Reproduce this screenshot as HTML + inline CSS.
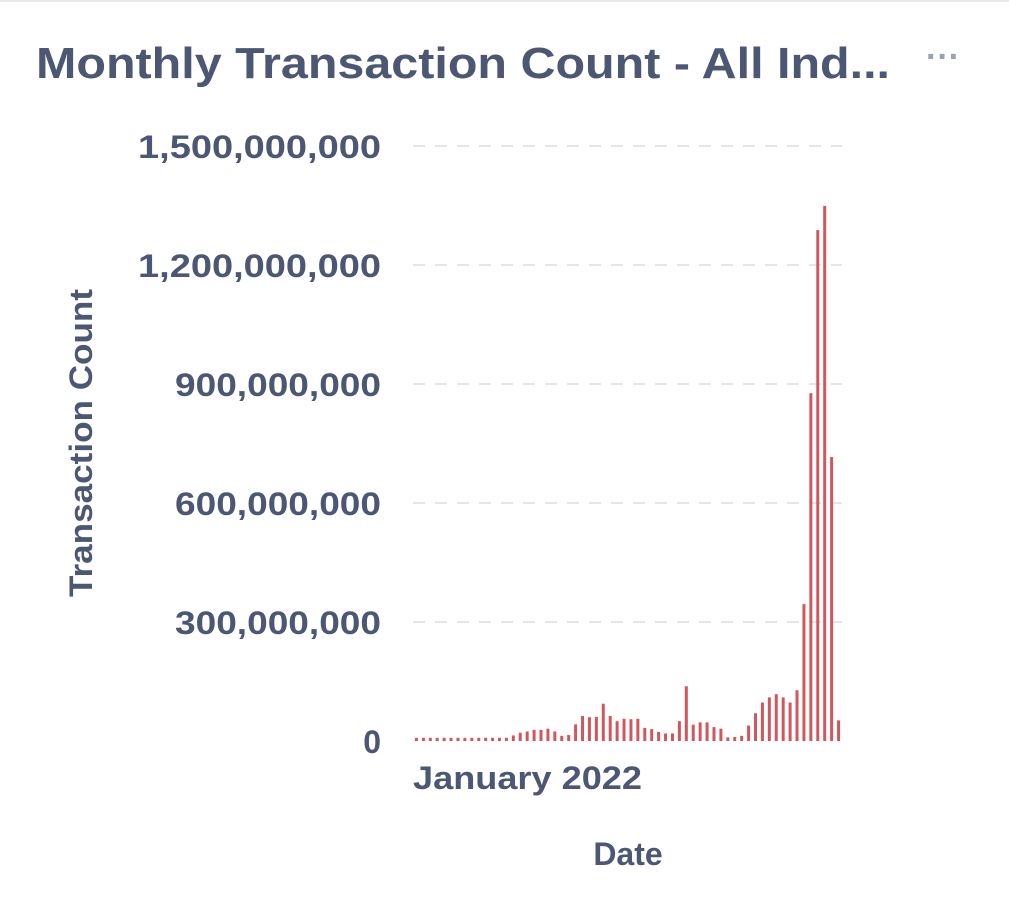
<!DOCTYPE html>
<html><head><meta charset="utf-8"><style>
html,body{margin:0;padding:0;background:#fff;}
svg{display:block;font-family:"Liberation Sans",sans-serif;}
</style></head><body>
<svg id="chart" width="1009" height="914" viewBox="0 0 1009 914">
<rect x="0" y="0" width="1009" height="2" fill="#e6e8ec"/>
<text x="36" y="78" font-size="44" font-weight="bold" fill="#4c5773" textLength="854" lengthAdjust="spacingAndGlyphs">Monthly Transaction Count - All Ind...</text>
<text x="943" y="68" font-size="34" font-weight="bold" fill="#9aa1b0" text-anchor="middle">···</text>
<text transform="translate(92,443) rotate(-90)" font-size="32" font-weight="bold" fill="#4c5773" text-anchor="middle" textLength="308" lengthAdjust="spacingAndGlyphs">Transaction Count</text>
<text x="628" y="865" font-size="32" font-weight="bold" fill="#4c5773" text-anchor="middle">Date</text>
<text x="413" y="789" font-size="32" font-weight="bold" fill="#4c5773" textLength="229" lengthAdjust="spacingAndGlyphs">January 2022</text>
<g id="grid"></g><g id="bars"></g>
</svg>
<script>
const yTicks=[0,300000000,600000000,900000000,1200000000,1500000000];
const yTickLabels=["0","300,000,000","600,000,000","900,000,000","1,200,000,000","1,500,000,000"];
const values=[8,8,8,8,8,8,8,8,8,8,8,8,8,8,14,21,24,28,28,31,24,13,15,42,63,60,61,94,63,50,56,55,56,33,30,23,19,19,50,138,41,47,47,35,31,9,10,13,39,70,97,110,118,110,97,128,345,877,1288,1349,716,52].map(v=>v*1e6);
const NS="http://www.w3.org/2000/svg";
const x0=413,x1=842,y0=741,yTop=146,yMax=1500000000;
function yScale(v){return y0-(v/yMax)*(y0-yTop);}
const step=(x1-x0)/values.length;
function xScale(i){return x0+step*i+step*0.5;}
const grid=document.getElementById('grid'),bars=document.getElementById('bars');
yTicks.forEach((t,i)=>{
 const y=yScale(t);
 if(t>0){const l=document.createElementNS(NS,'line');
 
 
 l.setAttribute('x1',x0);l.setAttribute('x2',x1);l.setAttribute('y1',y);l.setAttribute('y2',y);
 l.setAttribute('stroke','#e3e5e9');l.setAttribute('stroke-width','2');l.setAttribute('stroke-dasharray','12 10');grid.appendChild(l);}
 const tx=document.createElementNS(NS,'text');
 
 
 tx.setAttribute('x',381);tx.setAttribute('y',y+12);tx.setAttribute('text-anchor','end');
 tx.setAttribute('font-size','32');tx.setAttribute('font-weight','bold');tx.setAttribute('fill','#4c5773');
 const lab=yTickLabels[i];
 if(lab.length>1){tx.setAttribute('textLength',(243*lab.length/13).toFixed(0));tx.setAttribute('lengthAdjust','spacingAndGlyphs');}
 tx.textContent=lab;grid.appendChild(tx);
});
values.forEach((v,i)=>{
 const r=document.createElementNS(NS,'rect');
 
 
 const y=yScale(v);
 r.setAttribute('x',xScale(i)-1.5);r.setAttribute('width',3);
 r.setAttribute('y',y);r.setAttribute('height',y0-y);r.setAttribute('fill','#d2575d');
 bars.appendChild(r);
});
</script>
</body></html>
